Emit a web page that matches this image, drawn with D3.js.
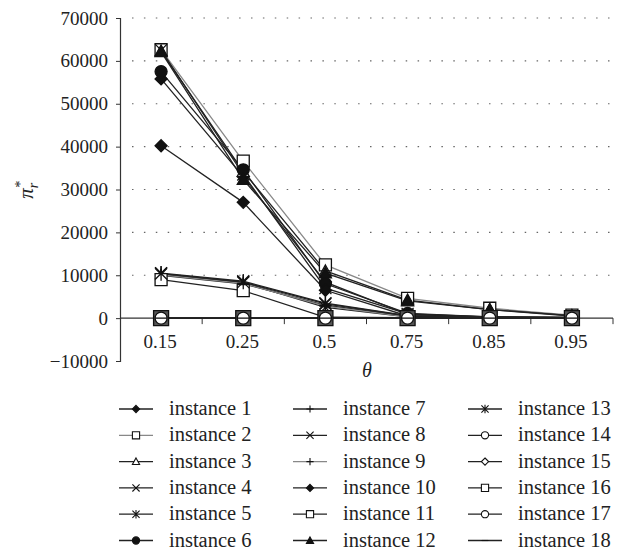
<!DOCTYPE html>
<html>
<head>
<meta charset="utf-8">
<script src="https://cdn.jsdelivr.net/npm/d3@7"></script>
<style>
  body { margin: 0; background: #fff; }
  svg text { font-family: "Liberation Serif", "DejaVu Serif", serif; }
</style>
</head>
<body>
<div class="chart"></div>
<script>
// data
const thetas = ['0.15', '0.25', '0.5', '0.75', '0.85', '0.95'];
const yTicks = [-10000, 0, 10000, 20000, 30000, 40000, 50000, 60000, 70000];
const instanceNames = d3.range(1, 19).map(i => 'instance ' + i);
const markers = ['diamondFill', 'square', 'triangle', 'x', 'asterisk', 'circleFill',
                 'plus', 'x', 'plus', 'diamondFill', 'square', 'triangleFill',
                 'asterisk', 'circle', 'diamond', 'square', 'circle', 'dash'];
const lineGray = [false, true, false, false, false, false, false, false, true,
                  false, false, false, false, false, false, false, false, false];

const inst1 = [55800, 33000, 8400, 900, 200, 100];
const inst2 = [62600, 36600, 12400, 4600, 2300, 700];
const inst3 = [62300, 34200, 11000, 4200, 2000, 600];
const inst4 = [62500, 33500, 7000, 1000, 300, 150];
const inst5 = [10500, 8600, 3500, 600, 200, 100];
const inst6 = [57500, 34600, 8000, 1100, 300, 150];
const inst7 = [10000, 8000, 3000, 400, 100, 50];
const inst8 = [10200, 8300, 2500, 300, 100, 50];
const inst9 = [10100, 8100, 2800, 300, 100, 50];
const inst10 = [40200, 27000, 6500, 500, 100, 50];
const inst11 = [9000, 6400, 200, 100, 50, 20];
const inst12 = [62100, 32300, 10500, 4000, 2000, 500];
const inst13 = [10400, 8400, 3300, 500, 200, 100];
const inst14 = [0, 0, 0, 0, 0, 0];
const inst15 = [0, 0, 0, 0, 0, 0];
const inst16 = [0, 0, 0, 0, 0, 0];
const inst17 = [0, 0, 0, 0, 0, 0];
const inst18 = [0, 0, 0, 0, 0, 0];

const allValues = [inst1, inst2, inst3, inst4, inst5, inst6, inst7, inst8, inst9,
                   inst10, inst11, inst12, inst13, inst14, inst15, inst16, inst17, inst18];

const width = 620, height = 554;
const margin = {top: 18, right: 7, bottom: 193, left: 120};

function markerPath(type, s) {
    // s = half size
    const h = s;
    switch (type) {
        case 'diamond':
        case 'diamondFill':
            return `M0,${-h}L${h},0L0,${h}L${-h},0Z`;
        case 'square':
            return `M${-h},${-h}H${h}V${h}H${-h}Z`;
        case 'triangle':
        case 'triangleFill':
            return `M0,${-h}L${h},${h * 0.8}L${-h},${h * 0.8}Z`;
        case 'circle':
        case 'circleFill':
            return `M${h},0A${h},${h} 0 1,1 ${-h},0A${h},${h} 0 1,1 ${h},0Z`;
        case 'x':
            return `M${-h},${-h}L${h},${h}M${-h},${h}L${h},${-h}`;
        case 'plus':
            return `M0,${-h}V${h}M${-h},0H${h}`;
        case 'asterisk':
            return `M${-h},${-h}L${h},${h}M${-h},${h}L${h},${-h}M0,${-h * 1.2}V${h * 1.2}`;
        case 'dash':
            return `M${-h},0H${h}`;
    }
}

function markerFill(type) {
    if (type.endsWith('Fill')) return '#111';
    if (['x', 'plus', 'asterisk', 'dash'].includes(type)) return 'none';
    return '#fff';
}

function drawGraph() {
    const svg = d3.select('.chart')
        .append('svg')
        .attr('width', width)
        .attr('height', height);

    const scaleX = d3.scaleBand()
        .domain(thetas)
        .range([margin.left, width - margin.right]);

    const scaleY = d3.scaleLinear()
        .domain([-10000, 70000])
        .range([height - margin.bottom, margin.top]);

    // dotted grid lines
    svg.append('g')
        .selectAll('line')
        .data(yTicks.filter(d => d > 0))
        .join('line')
        .attr('x1', margin.left + 12)
        .attr('x2', width - margin.right)
        .attr('y1', d => scaleY(d))
        .attr('y2', d => scaleY(d))
        .attr('stroke', '#666')
        .attr('stroke-width', 1.1)
        .attr('stroke-dasharray', '1.5,10.4');

    // y axis
    const yAxis = svg.append('g')
        .attr('transform', `translate(${margin.left},0)`)
        .call(d3.axisLeft(scaleY).tickValues(yTicks).tickSize(4).tickPadding(8)
            .tickFormat(d => d < 0 ? '\u2212' + Math.abs(d) : d));
    yAxis.select('.domain').attr('stroke', '#333').attr('stroke-width', 1.2);
    yAxis.selectAll('.tick line').attr('stroke', '#333');
    yAxis.selectAll('text').attr('font-size', 19).attr('fill', '#222');

    // x axis at zero with ticks on band borders
    const xg = svg.append('g')
        .attr('transform', `translate(0,${scaleY(0)})`);
    xg.append('line')
        .attr('x1', margin.left)
        .attr('x2', width - margin.right)
        .attr('stroke', '#333')
        .attr('stroke-width', 1.2);
    xg.selectAll('.btick')
        .data(thetas.slice(1).concat(['end']))
        .join('line')
        .attr('x1', d => d === 'end' ? width - margin.right : scaleX(d))
        .attr('x2', d => d === 'end' ? width - margin.right : scaleX(d))
        .attr('y1', 0)
        .attr('y2', 6)
        .attr('stroke', '#333');
    xg.selectAll('text')
        .data(thetas)
        .join('text')
        .attr('x', d => scaleX(d) + scaleX.bandwidth() / 2 - 1)
        .attr('y', 30)
        .attr('text-anchor', 'middle')
        .attr('font-size', 19)
        .attr('fill', '#222')
        .text(d => d);

    // axis titles
    svg.append('text')
        .attr('x', 367)
        .attr('y', 377)
        .attr('text-anchor', 'middle')
        .attr('font-size', 20)
        .attr('font-style', 'italic')
        .attr('fill', '#222')
        .text('\u03b8');

    const yt = svg.append('text')
        .attr('transform', 'translate(33,190) rotate(-90)')
        .attr('text-anchor', 'middle')
        .attr('font-size', 21)
        .attr('font-style', 'italic')
        .attr('fill', '#222');
    yt.append('tspan').text('\u03c0');
    yt.append('tspan').attr('font-size', 14).attr('dy', -8).text('*');
    yt.append('tspan').attr('font-size', 14).attr('dx', -7).attr('dy', 13).text('r');

    const cx = d => scaleX(d) + scaleX.bandwidth() / 2;
    const line = d3.line()
        .x((d, i) => cx(thetas[i]))
        .y(d => scaleY(d));

    // lines
    svg.append('g')
        .selectAll('path')
        .data(allValues)
        .join('path')
        .attr('d', d => line(d))
        .attr('fill', 'none')
        .attr('stroke', (d, i) => lineGray[i] ? '#888' : '#222')
        .attr('stroke-width', 1.3);

    // markers, the zero group square drawn a bit bigger like in the source
    allValues.forEach((vals, k) => {
        svg.append('g')
            .selectAll('path')
            .data(vals)
            .join('path')
            .attr('transform', (d, i) => `translate(${cx(thetas[i])},${scaleY(d)})`)
            .attr('d', markerPath(markers[k], k === 15 ? 7.5 : 6))
            .attr('fill', k === 15 ? '#555' : markerFill(markers[k]))
            .attr('stroke', '#111')
            .attr('stroke-width', 1.3);
    });

    // legend
    const legend = svg.append('g');
    const colX = [119, 293, 468];
    const rowY = d3.range(6).map(r => 409 + r * 26.3);
    const items = legend.selectAll('g')
        .data(instanceNames)
        .join('g')
        .attr('transform', (d, i) => `translate(${colX[Math.floor(i / 6)]},${rowY[i % 6]})`);
    items.append('line')
        .attr('x1', 0)
        .attr('x2', 34)
        .attr('stroke', (d, i) => lineGray[i] ? '#888' : '#222')
        .attr('stroke-width', 1.3);
    items.append('path')
        .attr('transform', 'translate(17,0)')
        .attr('d', (d, i) => markerPath(markers[i], 3.6))
        .attr('fill', (d, i) => markerFill(markers[i]))
        .attr('stroke', '#111')
        .attr('stroke-width', 1.1);
    items.append('text')
        .attr('x', 50)
        .attr('y', 6)
        .attr('font-size', 20.5)
        .attr('fill', '#222')
        .text(d => d);
}

drawGraph();
</script>
</body>
</html>
